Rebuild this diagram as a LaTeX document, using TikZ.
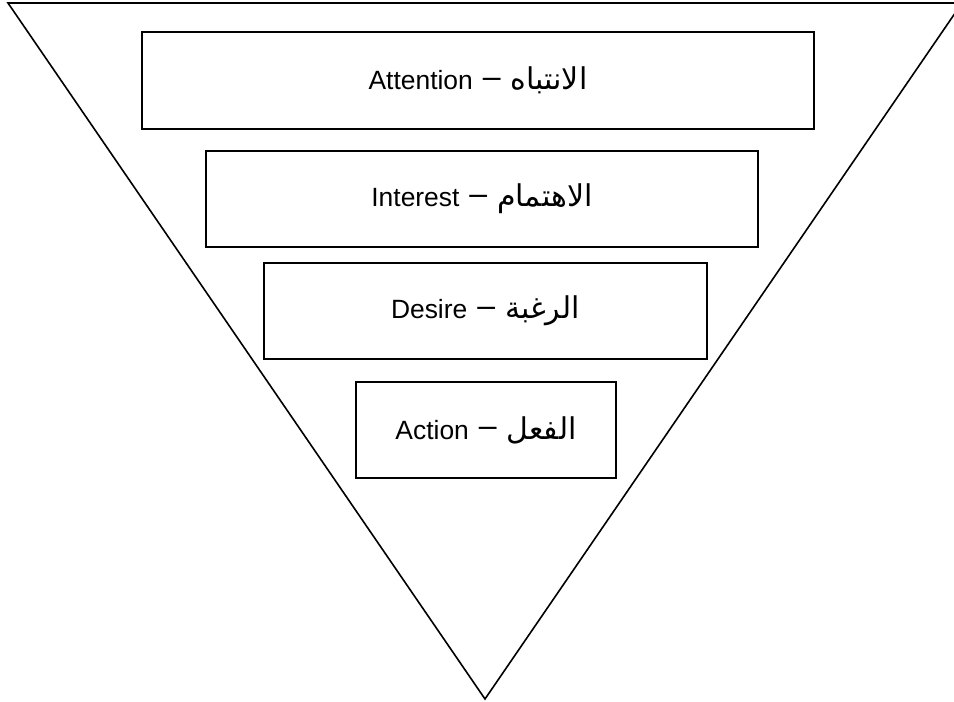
\documentclass[tikz,border=0pt]{standalone}
\usepackage{fontspec}
\setmainfont{Liberation Sans}
\newfontfamily\arabicfont[Script=Arabic]{DejaVu Sans}
\TeXXeTstate=1
\usetikzlibrary{positioning}

\newcommand{\arword}[1]{{\arabicfont\fontsize{15}{17}\selectfont\beginR #1\endR}}
\newcommand{\sepdash}{\hspace{5pt}\raisebox{1.2pt}{\fontsize{16}{18}\selectfont –}\hspace{5pt}}

\begin{document}
\begin{tikzpicture} [x=0.5pt, y=-0.5pt, on grid,
        stage/.style = {draw, line width=1pt, inner sep=0pt,
                        minimum height=48pt,
                        font=\fontsize{13.2}{15}\selectfont}]
        \clip (0,0) rectangle (954,702);
        % funnel
        \draw [line width=0.8pt] (8,3) -- (962,3) -- (485,699) -- cycle;

        \node (attn) [stage, minimum width=336pt, minimum height=48.5pt] at (478,80.5)
              {Attention\sepdash\arword{الانتباه}};
        \node (intr) [stage, minimum width=276pt,
                      below = 59.25pt of attn, xshift=2pt]
              {Interest\sepdash\arword{الاهتمام}};
        \node (desr) [stage, minimum width=221.5pt,
                      below = 56pt of intr, xshift=1.75pt]
              {Desire\sepdash\arword{الرغبة}};
        \node (actn) [stage, minimum width=130pt,
                      below = 59.5pt of desr, xshift=0.25pt]
              {Action\sepdash\arword{الفعل}};
\end{tikzpicture}
\end{document}
